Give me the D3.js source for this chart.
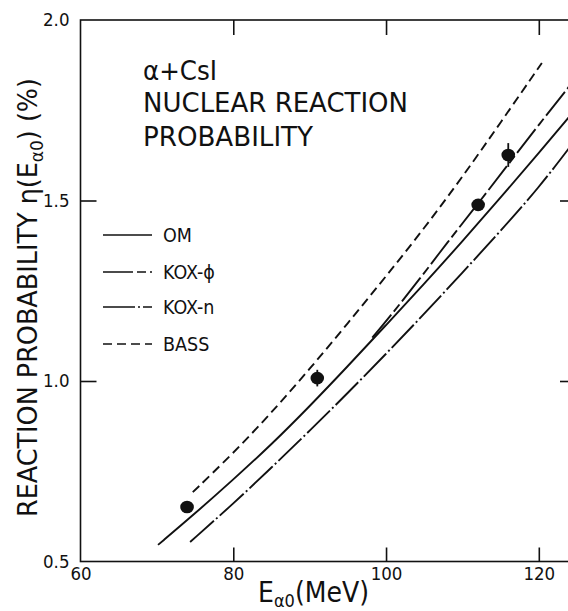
<!DOCTYPE html>
<html>
<head>
<meta charset="utf-8">
<script src="https://cdn.jsdelivr.net/npm/d3@7"></script>
<style>
  body { margin: 0; background: #fff; }
  svg { display: block; }
  text { font-family: "DejaVu Sans Condensed", "DejaVu Sans", sans-serif; fill: #111; }
</style>
</head>
<body>
<div id="chart"></div>
<script>
// curves: [E (MeV), eta (%)]
const omCurve = [[70.15, 0.546], [75, 0.633], [80, 0.727], [85, 0.824], [90, 0.93], [95, 1.041],
  [100, 1.155], [105, 1.269], [110, 1.387], [115, 1.508], [120, 1.632], [124.5, 1.745]];
const koxPhiCurve = [[98.2, 1.12], [100, 1.165], [104.5, 1.285], [108, 1.383], [112, 1.49],
  [116, 1.60], [120, 1.71], [124.5, 1.83]];
const koxNCurve = [[74.35, 0.554], [80, 0.66], [85, 0.76], [90, 0.862], [95, 0.967], [100, 1.075],
  [105, 1.186], [110, 1.3], [115, 1.416], [120, 1.535], [124.5, 1.66]];
const bassCurve = [[74.7, 0.692], [80, 0.80], [85, 0.912], [90, 1.033], [95, 1.16], [100, 1.29],
  [105, 1.423], [110, 1.565], [115, 1.716], [120.4, 1.881]];

// measured points: energy, value, error
const pointE = [73.95, 91.0, 112.06, 116.0];
const pointV = [0.651, 1.008, 1.488, 1.626];
const pointErr = [0, 0.023, 0, 0.033];

const xTicks = [60, 80, 100, 120];
const yTicks = [0.5, 1.0, 1.5, 2.0];
const legendNames = ["OM", "KOX-ϕ", "KOX-n", "BASS"];

const width = 568, height = 611;
const dashes = { "OM": null, "KOX-ϕ": "30,4,9,4", "KOX-n": "32,3,2,3", "BASS": "9,5" };
const curves = { "OM": omCurve, "KOX-ϕ": koxPhiCurve, "KOX-n": koxNCurve, "BASS": bassCurve };

const svg = d3.select('#chart').append('svg')
  .attr('width', width)
  .attr('height', height);

const x = d3.scaleLinear().domain([60, 125]).range([80.5, 577]);
const y = d3.scaleLinear().domain([0.5, 2.0]).range([561.5, 20]);

// frame
svg.append('rect')
  .attr('x', x(60)).attr('y', y(2.0))
  .attr('width', x(125) - x(60)).attr('height', y(0.5) - y(2.0))
  .attr('fill', 'none').attr('stroke', '#111').attr('stroke-width', 1.6);

const styleAxis = g => {
  g.select('.domain').remove();
  g.selectAll('line').attr('stroke', '#111').attr('stroke-width', 1.6);
  g.selectAll('text').attr('font-size', 18.5).attr('fill', '#111')
    .style('font-family', '"DejaVu Sans Condensed", sans-serif');
};

svg.append('g')
  .attr('transform', `translate(0,${y(0.5)})`)
  .call(d3.axisBottom(x).tickValues(xTicks).tickSize(-14).tickPadding(5).tickFormat(d3.format('d')))
  .call(styleAxis)
  .call(g => g.selectAll('.tick').filter(d => d === 60).select('line').remove());

svg.append('g')
  .attr('transform', `translate(0,${y(2.0)})`)
  .call(d3.axisTop(x).tickValues([80, 100, 120]).tickSize(-15).tickFormat(''))
  .call(styleAxis);

svg.append('g')
  .attr('transform', `translate(${x(60)},0)`)
  .call(d3.axisLeft(y).tickValues(yTicks).tickSize(-16).tickPadding(11).tickFormat(d3.format('.1f')))
  .call(styleAxis)
  .call(g => g.selectAll('.tick').filter(d => d === 0.5 || d === 2.0).select('line').remove());

svg.append('g')
  .attr('transform', `translate(${x(125)},0)`)
  .call(d3.axisRight(y).tickValues([1.0, 1.5]).tickSize(-17).tickFormat(''))
  .call(styleAxis);

// curves
const line = d3.line()
  .x(d => x(d[0]))
  .y(d => y(d[1]))
  .curve(d3.curveBasis);

svg.append('g').selectAll('path')
  .data(legendNames)
  .enter()
  .append('path')
  .attr('d', k => line(curves[k]))
  .attr('fill', 'none')
  .attr('stroke', '#111')
  .attr('stroke-width', 1.9)
  .attr('stroke-dasharray', k => dashes[k]);

// data points
const pts = pointE.map((e, i) => ({ e, v: pointV[i], err: pointErr[i] }));
const pg = svg.append('g');
pg.selectAll('.err')
  .data(pts.filter(d => d.err > 0))
  .enter()
  .append('line')
  .attr('class', 'err')
  .attr('x1', d => x(d.e)).attr('x2', d => x(d.e))
  .attr('y1', d => y(d.v + d.err)).attr('y2', d => y(d.v - d.err))
  .attr('stroke', '#111').attr('stroke-width', 1.8);
pg.selectAll('.pt')
  .data(pts)
  .enter()
  .append('ellipse')
  .attr('class', 'pt')
  .attr('cx', d => x(d.e)).attr('cy', d => y(d.v))
  .attr('rx', 6.8).attr('ry', 6.3)
  .attr('fill', '#111');

// legend
const legend = svg.append('g');
const rowY = [235, 272, 307, 344];
legendNames.forEach((k, i) => {
  legend.append('line')
    .attr('x1', 103).attr('x2', 152)
    .attr('y1', rowY[i]).attr('y2', rowY[i])
    .attr('stroke', '#111').attr('stroke-width', 1.7)
    .attr('stroke-dasharray', dashes[k]);
  legend.append('text')
    .attr('x', 163).attr('y', rowY[i] + 7)
    .attr('font-size', 19.5)
    .text(k);
});

// title block
const titleLines = ["α+CsI", "NUCLEAR REACTION", "PROBABILITY"];
const titleY = [80, 112, 146];
const titleW = [74, 265, 170];
titleLines.forEach((t, i) => {
  svg.append('text')
    .attr('x', 143).attr('y', titleY[i])
    .attr('font-size', 26)
    .attr('textLength', titleW[i])
    .attr('lengthAdjust', 'spacingAndGlyphs')
    .text(t);
});

// y axis label
const yl = svg.append('text')
  .attr('transform', 'translate(37,517) rotate(-90)')
  .attr('font-size', 27)
  .attr('textLength', 439)
  .attr('lengthAdjust', 'spacingAndGlyphs');
yl.append('tspan').text('REACTION PROBABILITY η(E');
yl.append('tspan').attr('font-size', 18).attr('dy', 6).text('α0');
yl.append('tspan').attr('dy', -6).text(') (%)');

// x axis label
const xl = svg.append('text')
  .attr('x', 258).attr('y', 602)
  .attr('font-size', 28);
xl.append('tspan').text('E');
xl.append('tspan').attr('font-size', 18).attr('dy', 5).text('α0');
xl.append('tspan').attr('dy', -5).text('(MeV)');
</script>
</body>
</html>
